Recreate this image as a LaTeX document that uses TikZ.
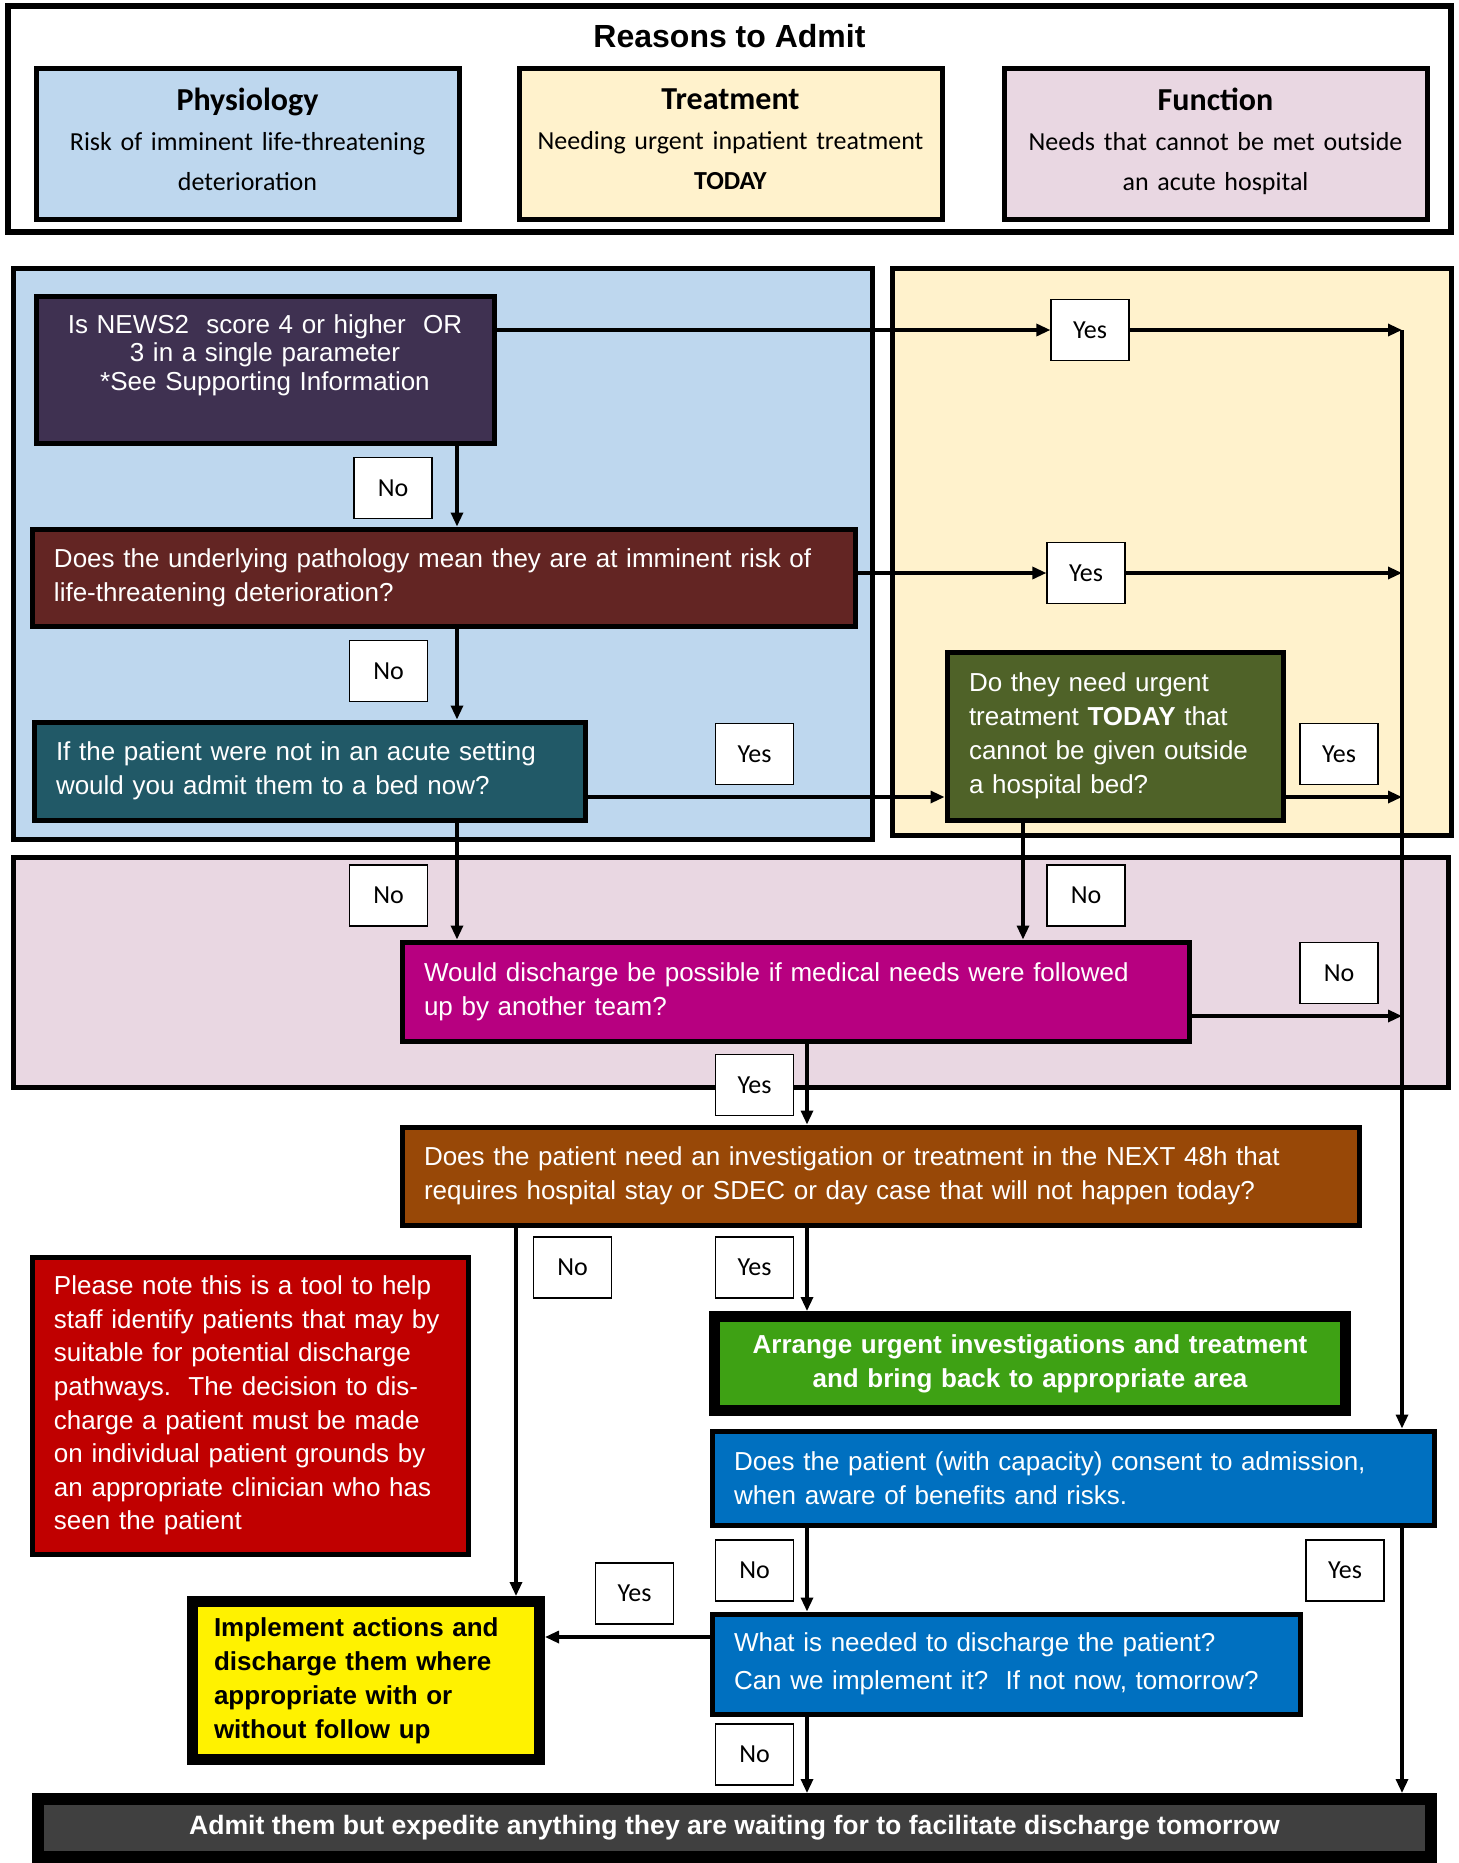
\documentclass[tikz,border=0pt]{standalone}
\usepackage{fontspec}
\setmainfont{Liberation Sans}
\newfontfamily\calibri{Carlito}
\usetikzlibrary{arrows.meta,positioning}
\definecolor{physblue}{RGB}{190,215,238}
\definecolor{treatcream}{RGB}{255,242,204}
\definecolor{funcpink}{RGB}{233,215,226}
\definecolor{newspurple}{RGB}{63,49,81}
\definecolor{pathomaroon}{RGB}{99,37,35}
\definecolor{bedteal}{RGB}{33,89,103}
\definecolor{todayolive}{RGB}{79,98,40}
\definecolor{followmagenta}{RGB}{183,0,128}
\definecolor{nextbrown}{RGB}{152,72,7}
\definecolor{arrangegreen}{RGB}{62,161,20}
\definecolor{consentblue}{RGB}{0,112,192}
\definecolor{notered}{RGB}{192,0,0}
\definecolor{admitgrey}{RGB}{64,64,64}
\newcommand{\qfont}{\fontsize{13}{17}\selectfont}

\begin{document}
\begin{tikzpicture}[
  x=0.5pt, y=-0.5pt,
  zone/.style={draw, line width=2.5pt, inner sep=0pt},
  head/.style={draw, line width=2.5pt, align=center, inner xsep=5pt, font=\calibri\fontsize{13}{20}\selectfont},
  qbox/.style={draw, line width=2.5pt, text=white, align=left, inner xsep=11pt, font=\qfont},
  bigbox/.style={draw, line width=5.5pt, inner xsep=11pt, font=\qfont\bfseries},
  lab/.style={draw, fill=white, line width=0.6pt, minimum width=39pt, minimum height=30.5pt, inner sep=0pt, font=\calibri\fontsize{13}{15}\selectfont},
  arr/.style={-{Triangle[length=7pt,width=6pt]}, line width=1.6pt}
]
\useasboundingbox (0,0) rectangle (1459,1863);

\node[draw, line width=3pt, minimum width=721.5pt, minimum height=113pt] (reasons) at (729.5,119) {};
\node[font=\fontsize{16}{19}\selectfont\bfseries] (title) at (729.5,36) {Reasons to Admit};
\node[head, fill=physblue, text width=201.5pt, minimum height=75.5pt] (phys) at (247.5,143.5)
  {{\fontsize{16}{20}\selectfont\bfseries Physiology}\\Risk of imminent life-threatening\\deterioration\\[-16pt]\mbox{}};
\node[head, fill=treatcream, text width=201.5pt, minimum height=75.5pt] (treat) at (730.5,143.5)
  {{\fontsize{16}{20}\selectfont\bfseries Treatment}\\Needing urgent inpatient treatment\\\textbf{TODAY}\\[-16pt]\mbox{}};
\node[head, fill=funcpink, text width=201.5pt, minimum height=75.5pt] (func) at (1215.5,143.5)
  {{\fontsize{16}{20}\selectfont\bfseries Function}\\Needs that cannot be met outside\\an acute hospital\\[-16pt]\mbox{}};

\node[zone, fill=physblue, minimum width=429.5pt, minimum height=285.5pt] (physzone) at (442.5,553.5) {};
\node[zone, fill=treatcream, minimum width=279.5pt, minimum height=283.5pt] (treatzone) at (1171.5,551.5) {};
\node[zone, fill=funcpink, minimum width=717.5pt, minimum height=115pt] (funczone) at (730.5,972) {};

\node[qbox, fill=newspurple, align=center, text width=207pt, minimum height=73.5pt, font=\fontsize{13}{14.3}\selectfont] (news) at (265,369.5)
  {Is NEWS2\ \ score 4 or higher\ \ OR\\3 in a single parameter\\{*}See Supporting Information\\[3pt]\mbox{}};
\node[qbox, fill=pathomaroon, text width=389.5pt, minimum height=48.5pt] (patho) at (443.5,577.5)
  {Does the underlying pathology mean they are at imminent risk of\\life-threatening deterioration?};
\node[qbox, fill=bedteal, text width=253.5pt, minimum height=49pt] (bed) at (309.5,771)
  {If the patient were not in an acute setting\\would you admit them to a bed now?};
\node[qbox, fill=todayolive, text width=146pt, minimum height=84pt] (today) at (1115,736)
  {Do they need urgent\\treatment \textbf{TODAY} that\\cannot be given outside\\a hospital bed?};
\node[qbox, fill=followmagenta, text width=371.5pt, minimum height=49.5pt] (followup) at (795.5,991.5)
  {Would discharge be possible if medical needs were followed\\up by another team?};
\node[qbox, fill=nextbrown, text width=456.5pt, minimum height=49pt] (next48) at (880.5,1176)
  {Does the patient need an investigation or treatment in the NEXT 48h that\\requires hospital stay or SDEC or day case that will not happen today?};
\node[bigbox, fill=arrangegreen, text=white, align=center, text width=293.5pt, minimum height=47pt] (arrange) at (1030,1363.5)
  {Arrange urgent investigations and treatment\\and bring back to appropriate area};
\node[qbox, fill=notered, text width=196pt, minimum height=148.5pt, font=\fontsize{13}{16.8}\selectfont] (note) at (250,1405.5)
  {Please note this is a tool to help\\staff identify patients that may by\\suitable for potential discharge\\pathways.\ \ The decision to dis-\\charge a patient must be made\\on individual patient grounds by\\an appropriate clinician who has\\seen the patient};
\node[qbox, fill=consentblue, text width=339pt, minimum height=47pt] (consent) at (1073,1478)
  {Does the patient (with capacity) consent to admission,\\when aware of benefits and risks.};
\node[qbox, fill=consentblue, text width=272pt, minimum height=50pt, font=\fontsize{13}{19}\selectfont] (whatneed) at (1006,1664)
  {What is needed to discharge the patient?\\Can we implement it?\ \ If not now, tomorrow?};
\node[bigbox, fill=yellow, align=left, inner xsep=10.75pt, text width=152pt, minimum height=79pt] (implement) at (366,1680.5)
  {Implement actions and\\discharge them where\\appropriate with or\\without follow up};
\node[draw, line width=6pt, fill=admitgrey, text=white, font=\fontsize{13.3}{16}\selectfont\bfseries, minimum width=696.5pt, minimum height=29pt] (admit) at (734.5,1828)
  {Admit them but expedite anything they are waiting for to facilitate discharge tomorrow};

\node[lab] (yes1) at (1090,330) {Yes};
\node[lab] (no1) at (393,488) {No};
\node[lab] (yes2) at (1086,573) {Yes};
\node[lab] (no2) at (388.5,671) {No};
\node[lab] (yes3) at (754.5,754) {Yes};
\node[lab] (yes4) at (1339,754) {Yes};
\node[lab] (no3) at (388.5,895.5) {No};
\node[lab] (no4) at (1086,895.5) {No};
\node[lab] (no5) at (1339,973) {No};
\node[lab] (yes5) at (754.5,1085) {Yes};
\node[lab] (no6) at (572.5,1267.5) {No};
\node[lab] (yes6) at (754.5,1267.5) {Yes};
\node[lab] (no7) at (754.5,1570.5) {No};
\node[lab] (yes7) at (1345,1570.5) {Yes};
\node[lab] (yes8) at (634.5,1593.5) {Yes};
\node[lab] (no8) at (754.5,1754.5) {No};

\coordinate (colA) at (457,0);
\coordinate (colB) at (1023,0);
\coordinate (colC) at (807,0);
\coordinate (colD) at (516,0);
\coordinate (trunk) at (1402,330);
\coordinate (rowC) at (0,797);
\coordinate (rowM) at (0,1016);
\coordinate (rowE) at (0,1637);

\draw[arr] (yes1.west -| news.east) -- (yes1.west);
\draw[arr] (yes1.east) -- (yes1.east -| trunk);
\draw[arr] (yes2.west -| patho.east) -- (yes2.west);
\draw[arr] (yes2.east) -- (yes2.east -| trunk);
\draw[arr] (news.south -| colA) -- (patho.north -| colA);
\draw[arr] (patho.south -| colA) -- (bed.north -| colA);
\draw[arr] (bed.south -| colA) -- (followup.north -| colA);
\draw[arr] (bed.east |- rowC) -- (today.west |- rowC);
\draw[arr] (today.east |- rowC) -- (trunk |- rowC);
\draw[arr] (today.south -| colB) -- (followup.north -| colB);
\draw[arr] (followup.east |- rowM) -- (trunk |- rowM);
\draw[arr] (followup.south -| colC) -- (next48.north -| colC);
\draw[arr] (next48.south -| colC) -- (arrange.north -| colC);
\draw[arr] (next48.south -| colD) -- (implement.north -| colD);
\draw[arr] (trunk) -- (trunk |- consent.north);
\draw[arr] (consent.south -| colC) -- (whatneed.north -| colC);
\draw[arr] (consent.south -| trunk) -- (admit.north -| trunk);
\draw[arr] (whatneed.west |- rowE) -- (implement.east |- rowE);
\draw[arr] (whatneed.south -| colC) -- (admit.north -| colC);
\end{tikzpicture}
\end{document}
